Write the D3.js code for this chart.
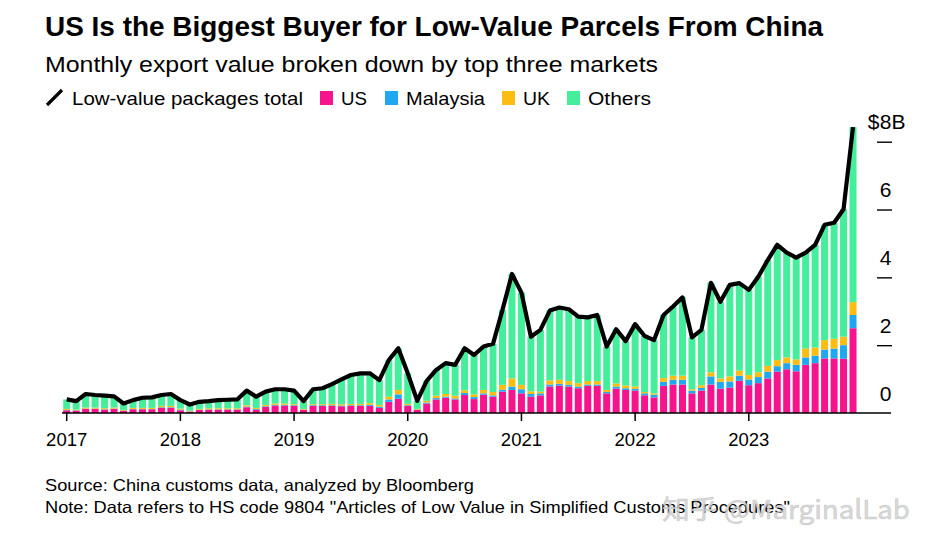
<!DOCTYPE html>
<html>
<head>
<meta charset="utf-8">
<script src="https://cdn.jsdelivr.net/npm/d3@7"></script>
<style>
  html, body { margin: 0; padding: 0; background: #fff; }
  svg { display: block; font-family: "Liberation Sans", Arial, sans-serif; }
</style>
</head>
<body>
<svg id="chart" width="936" height="548"></svg>
<script>
// ---------- data (billions USD, monthly Jan 2017 – Dec 2023) ----------
const years = ["2017","2018","2019","2020","2021","2022","2023"];
const seriesNames = ["US","Malaysia","UK","Others"];
const seriesColors = ["#f5148c","#1fa8f0","#fbbd12","#45ee9a"];
const yTicks = [0,2,4,6,8];

const total = [
  0.40,0.35,0.56,0.53,0.51,0.49,0.28,0.38,0.45,0.46,0.53,0.56,
  0.38,0.25,0.33,0.35,0.38,0.39,0.40,0.66,0.48,0.63,0.70,0.70,
  0.66,0.35,0.70,0.73,0.85,0.99,1.12,1.17,1.17,0.97,1.56,1.91,
  1.17,0.36,0.95,1.27,1.47,1.42,1.91,1.71,1.96,2.04,3.04,4.10,
  3.55,2.25,2.45,3.02,3.11,3.06,2.84,2.82,2.89,1.96,2.47,2.12,
  2.62,2.27,2.15,2.89,3.14,3.41,2.23,2.45,3.84,3.28,3.78,3.83,
  3.63,4.02,4.51,4.96,4.73,4.58,4.73,4.96,5.55,5.61,6.01,8.43
];
const us = [
  0.08,0.07,0.12,0.12,0.10,0.12,0.06,0.11,0.11,0.11,0.15,0.15,
  0.08,0.04,0.09,0.10,0.10,0.10,0.10,0.17,0.10,0.18,0.22,0.22,
  0.21,0.09,0.21,0.21,0.21,0.20,0.21,0.21,0.21,0.15,0.33,0.42,
  0.21,0.09,0.28,0.40,0.45,0.40,0.53,0.41,0.54,0.48,0.63,0.68,
  0.58,0.48,0.52,0.78,0.81,0.78,0.73,0.80,0.80,0.58,0.72,0.68,
  0.66,0.52,0.46,0.80,0.84,0.84,0.58,0.66,0.84,0.72,0.75,0.95,
  0.82,0.88,1.02,1.22,1.29,1.23,1.42,1.47,1.61,1.61,1.60,2.50
];
const malaysia = [
  0.01,0.01,0.01,0.01,0.01,0.01,0.01,0.01,0.01,0.01,0.02,0.02,
  0.02,0.01,0.01,0.01,0.01,0.01,0.01,0.02,0.02,0.02,0.02,0.02,
  0.02,0.01,0.02,0.02,0.02,0.02,0.02,0.02,0.03,0.04,0.07,0.13,
  0.02,0.01,0.03,0.04,0.03,0.03,0.06,0.06,0.04,0.04,0.06,0.10,
  0.12,0.08,0.06,0.06,0.05,0.05,0.05,0.04,0.04,0.04,0.06,0.05,
  0.05,0.06,0.08,0.12,0.14,0.14,0.08,0.08,0.24,0.20,0.18,0.15,
  0.17,0.18,0.20,0.16,0.18,0.19,0.22,0.22,0.26,0.29,0.40,0.39
];
const uk = [
  0.03,0.02,0.03,0.03,0.03,0.03,0.02,0.03,0.03,0.03,0.04,0.04,
  0.03,0.02,0.02,0.03,0.03,0.03,0.03,0.04,0.03,0.04,0.04,0.04,
  0.03,0.02,0.03,0.03,0.04,0.04,0.04,0.04,0.05,0.05,0.08,0.13,
  0.04,0.02,0.05,0.07,0.08,0.08,0.08,0.08,0.10,0.10,0.14,0.24,
  0.13,0.08,0.05,0.12,0.12,0.11,0.10,0.10,0.10,0.06,0.09,0.08,
  0.07,0.04,0.04,0.11,0.12,0.12,0.04,0.08,0.12,0.10,0.15,0.15,
  0.13,0.14,0.17,0.18,0.17,0.16,0.26,0.24,0.28,0.29,0.25,0.38
];
const others = [
  0.28,0.25,0.40,0.37,0.37,0.33,0.19,0.23,0.30,0.31,0.32,0.35,
  0.25,0.18,0.21,0.21,0.24,0.25,0.26,0.43,0.33,0.39,0.42,0.42,
  0.40,0.23,0.44,0.47,0.58,0.73,0.85,0.90,0.88,0.73,1.08,1.23,
  0.90,0.24,0.59,0.76,0.91,0.91,1.24,1.16,1.28,1.42,2.21,3.08,
  2.72,1.61,1.82,2.06,2.13,2.12,1.96,1.88,1.95,1.28,1.60,1.31,
  1.84,1.65,1.57,1.86,2.04,2.31,1.53,1.63,2.64,2.26,2.70,2.58,
  2.51,2.82,3.12,3.40,3.09,3.00,2.83,3.03,3.40,3.42,3.76,5.16
];

// month categories
const months = [];
years.forEach(y => { for (let m = 1; m <= 12; m++) months.push(y + "-" + String(m).padStart(2, "0")); });

const rows = months.map((mo, i) => ({
  month: mo, US: us[i], Malaysia: malaysia[i], UK: uk[i], Others: others[i], total: total[i]
}));

// ---------- layout ----------
const svg = d3.select("#chart");
const baseY = 413;
const topY = 141.7;

const x = d3.scaleBand()
  .domain(months)
  .range([61.96, 857.76])
  .paddingInner(0.26)
  .paddingOuter(0.13);

const y = d3.scaleLinear().domain([0, 8]).range([baseY, topY]);
const color = d3.scaleOrdinal().domain(seriesNames).range(seriesColors);

// ---------- header ----------
svg.append("text")
  .attr("x", 45).attr("y", 36)
  .attr("font-size", 28).attr("font-weight", "bold").attr("fill", "#000")
  .attr("textLength", 778).attr("lengthAdjust", "spacingAndGlyphs")
  .text("US Is the Biggest Buyer for Low-Value Parcels From China");

svg.append("text")
  .attr("x", 45).attr("y", 72)
  .attr("font-size", 22).attr("fill", "#000")
  .attr("textLength", 613).attr("lengthAdjust", "spacingAndGlyphs")
  .text("Monthly export value broken down by top three markets");

// legend
const lg = svg.append("g");
lg.append("line")
  .attr("x1", 47).attr("y1", 105).attr("x2", 62).attr("y2", 90)
  .attr("stroke", "#000").attr("stroke-width", 3.2);
lg.append("text")
  .attr("x", 72).attr("y", 105).attr("font-size", 19).attr("fill", "#000")
  .attr("textLength", 231).attr("lengthAdjust", "spacingAndGlyphs")
  .text("Low-value packages total");

const legendItems = [
  { name: "US", sx: 320, tx: 341, w: 26 },
  { name: "Malaysia", sx: 385, tx: 406, w: 79 },
  { name: "UK", sx: 502, tx: 523, w: 27 },
  { name: "Others", sx: 567, tx: 588, w: 63 }
];
legendItems.forEach(d => {
  lg.append("rect")
    .attr("x", d.sx).attr("y", 91).attr("width", 13).attr("height", 14)
    .attr("fill", color(d.name));
  lg.append("text")
    .attr("x", d.tx).attr("y", 105).attr("font-size", 19).attr("fill", "#000")
    .attr("textLength", d.w).attr("lengthAdjust", "spacingAndGlyphs")
    .text(d.name);
});

// ---------- bars ----------
const stack = d3.stack().keys(seriesNames);
const stacked = stack(rows);

svg.append("g")
  .selectAll("g")
  .data(stacked)
  .join("g")
  .attr("fill", d => color(d.key))
  .selectAll("rect")
  .data(d => d)
  .join("rect")
  .attr("x", d => x(d.data.month))
  .attr("width", x.bandwidth())
  .attr("y", d => y(d[1]))
  .attr("height", d => Math.max(0, y(d[0]) - y(d[1])));

// ---------- axes ----------
svg.append("line")
  .attr("x1", 62).attr("x2", 891).attr("y1", baseY).attr("y2", baseY)
  .attr("stroke", "#000").attr("stroke-width", 1.5);

const xAxisG = svg.append("g").attr("transform", `translate(0,${baseY})`);
const xAxis = d3.axisBottom(x)
  .tickValues(years.map(yy => yy + "-01"))
  .tickFormat(d => d.slice(0, 4))
  .tickSize(8)
  .tickPadding(12);
xAxisG.call(xAxis);
xAxisG.select(".domain").remove();
xAxisG.selectAll(".tick line").attr("stroke", "#000").attr("stroke-width", 1.5);
xAxisG.selectAll(".tick text")
  .attr("font-size", 18.5).attr("fill", "#000")
  .attr("font-family", "'Liberation Sans', Arial, sans-serif");

const yAxisG = svg.append("g").attr("transform", "translate(877,0)");
const yAxis = d3.axisRight(y).tickValues(yTicks).tickSize(15).tickFormat("");
yAxisG.call(yAxis);
yAxisG.select(".domain").remove();
yAxisG.selectAll(".tick line")
  .attr("stroke", "#000").attr("stroke-width", 1.4)
  .attr("opacity", d => d === 0 ? 0 : 1);

const yl = svg.append("g");
yTicks.forEach(t => {
  const ty = y(t) - 12.5;
  yl.append("text")
    .attr("x", 885.5).attr("y", ty).attr("text-anchor", "middle")
    .attr("font-size", 21).attr("fill", "#000")
    .text(t);
  if (t === 8) {
    yl.append("text").attr("x", 879.5).attr("y", ty).attr("text-anchor", "end")
      .attr("font-size", 21).attr("fill", "#000").text("$");
    yl.append("text").attr("x", 891.5).attr("y", ty).attr("text-anchor", "start")
      .attr("font-size", 21).attr("fill", "#000").text("B");
  }
});

// ---------- total line ----------
const line = d3.line()
  .x(d => x(d.month) + x.bandwidth() / 2)
  .y(d => y(d.total));

svg.append("path")
  .datum(rows)
  .attr("d", line)
  .attr("fill", "none")
  .attr("stroke", "#000")
  .attr("stroke-width", 4.2)
  .attr("stroke-linejoin", "round")
  .attr("stroke-linecap", "butt");

// ---------- footnotes ----------
svg.append("text")
  .attr("x", 45).attr("y", 491).attr("font-size", 16.5).attr("fill", "#000")
  .attr("textLength", 429).attr("lengthAdjust", "spacingAndGlyphs")
  .text("Source: China customs data, analyzed by Bloomberg");
svg.append("text")
  .attr("x", 45).attr("y", 513).attr("font-size", 16.5).attr("fill", "#000")
  .attr("textLength", 745).attr("lengthAdjust", "spacingAndGlyphs")
  .text("Note: Data refers to HS code 9804 \"Articles of Low Value in Simplified Customs Procedures\"");

// watermark (overlaps the note, as in the reference)
svg.append("text")
  .attr("x", 662).attr("y", 519)
  .attr("font-size", 26)
  .attr("font-family", "'Noto Sans CJK SC', 'Noto Sans', sans-serif")
  .attr("textLength", 248).attr("lengthAdjust", "spacingAndGlyphs")
  .attr("fill", "#d4d4d4").attr("fill-opacity", 0.85)
  .attr("stroke", "#b0b0b0").attr("stroke-width", 0.6).attr("stroke-opacity", 0.6)
  .text("知乎 @MarginalLab");
</script>
</body>
</html>
